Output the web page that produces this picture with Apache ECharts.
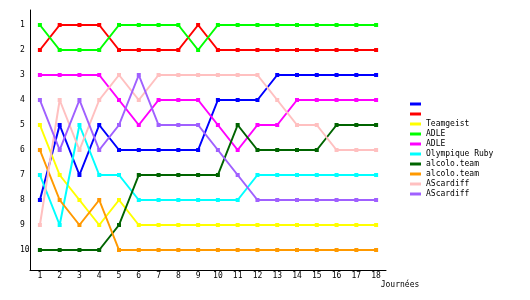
<!DOCTYPE html>
<html><head><meta charset="utf-8">
<script src="https://cdn.jsdelivr.net/npm/echarts@6/dist/echarts.min.js"></script>
<style>html,body{margin:0;padding:0;background:#fff}#c{width:530px;height:300px}</style>
</head><body><div id="c"></div>
<script>
const journees = ['1','2','3','4','5','6','7','8','9','10','11','12','13','14','15','16','17','18'];
const rankTicks = [1,2,3,4,5,6,7,8,9,10];
const labels = ['', '', 'Teamgeist', 'ADLE', 'ADLE', 'Olympique Ruby', 'alcolo.team', 'alcolo.team', 'AScardiff', 'AScardiff'];
const colors = ['#0000ff', '#ff0000', '#ffff00', '#00ff00', '#ff00ff', '#00ffff', '#006400', '#ff9900', '#ffc0c0', '#a060ff'];
const sBlue    = [8,5,7,5,6,6,6,6,6,4,4,4,3,3,3,3,3,3];
const sRed     = [2,1,1,1,2,2,2,2,1,2,2,2,2,2,2,2,2,2];
const sYellow  = [5,7,8,9,8,9,9,9,9,9,9,9,9,9,9,9,9,9];
const sGreen   = [1,2,2,2,1,1,1,1,2,1,1,1,1,1,1,1,1,1];
const sMagenta = [3,3,3,3,4,5,4,4,4,5,6,5,5,4,4,4,4,4];
const sCyan    = [7,9,5,7,7,8,8,8,8,8,8,7,7,7,7,7,7,7];
const sDkGreen = [10,10,10,10,9,7,7,7,7,7,5,6,6,6,6,5,5,5];
const sOrange  = [6,8,9,8,10,10,10,10,10,10,10,10,10,10,10,10,10,10];
const sPink    = [9,4,6,4,3,4,3,3,3,3,3,3,4,5,5,6,6,6];
const sPurple  = [4,6,4,6,5,3,5,5,5,6,7,8,8,8,8,8,8,8];
const seriesData = [sBlue, sRed, sYellow, sGreen, sMagenta, sCyan, sDkGreen, sOrange, sPink, sPurple];

const FONT = '"DejaVu Sans Mono", monospace';
const chart = echarts.init(document.getElementById('c'), null, {renderer: 'canvas'});
const names = seriesData.map((_, i) => 's' + i);
chart.setOption({
  animation: false,
  backgroundColor: '#fff',
  grid: {left: 30, right: 144, top: 10, bottom: 30},
  legend: {
    orient: 'vertical', left: 410, top: 96, padding: 0,
    itemWidth: 11, itemHeight: 3, itemGap: -6, icon: 'rect',
    data: names,
    formatter: n => { const l = labels[+n.slice(1)]; return l === '' ? ' ' : l; },
    textStyle: {fontFamily: FONT, fontSize: 8, color: '#000', lineHeight: 10, padding: [6, 0, 0, 0]}
  },
  xAxis: {
    type: 'category', data: journees, boundaryGap: true,
    name: 'Journées', nameLocation: 'end', nameGap: 14,
    nameTextStyle: {fontFamily: FONT, fontSize: 8, color: '#000', align: 'center', verticalAlign: 'top', padding: [11, 0, 0, 0]},
    axisLine: {lineStyle: {color: '#000', width: 1}},
    axisTick: {show: false},
    axisLabel: {fontFamily: FONT, fontSize: 8, color: '#000', margin: 2},
    splitLine: {show: false}
  },
  yAxis: {
    type: 'value', inverse: true, min: 0.4, max: 10.8,
    axisLine: {show: true, lineStyle: {color: '#000', width: 1}},
    axisTick: {show: false},
    axisLabel: {fontFamily: FONT, fontSize: 8, color: '#000', margin: 10, align: 'left', customValues: rankTicks},
    splitLine: {show: false}
  },
  series: seriesData.map((d, i) => ({
    name: names[i], type: 'line', data: d,
    color: colors[i],
    symbol: 'rect', symbolSize: 4, showSymbol: true,
    lineStyle: {width: 2, color: colors[i]},
    itemStyle: {color: colors[i]},
    emphasis: {disabled: true}
  }))
});
</script></body></html>
